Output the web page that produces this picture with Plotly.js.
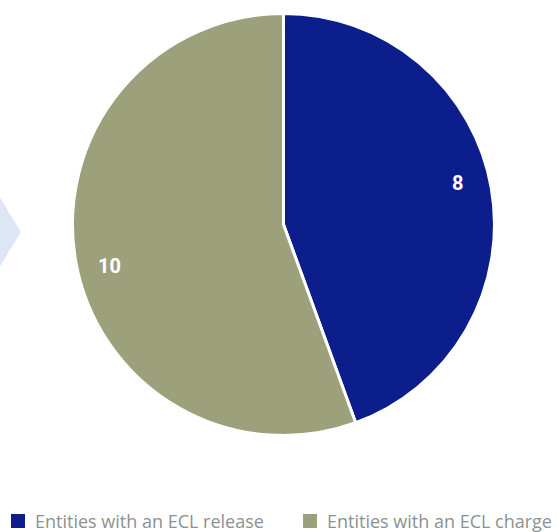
<!DOCTYPE html>
<html><head><meta charset="utf-8">
<script src="https://cdn.plot.ly/plotly-3.0.1.min.js"></script>
<style>html,body{margin:0;padding:0;background:#fff}#chart{width:558px;height:532px}</style>
</head><body><div id="chart"></div>
<script>
const categories = ["Entities with an ECL release", "Entities with an ECL charge"];
const values = [8, 10];
const colors = ["#0b1e8c", "#9ca17c"];

const W = 558, H = 532;
const dom = {x: [0.1299, 0.8862], y: [0.1814, 0.9746]};
const cx = (dom.x[0] + dom.x[1]) / 2, cy = (dom.y[0] + dom.y[1]) / 2;
const rPx = (dom.x[1] - dom.x[0]) * W / 2;
const total = values.reduce((a, b) => a + b, 0);
let cum = 0;
const annotations = values.map((v) => {
  const mid = (cum + v / 2) / total * 2 * Math.PI - 0.061;
  cum += v;
  const rr = rPx * 0.846;
  return {
    x: cx + rr * Math.sin(mid) / W, y: cy + rr * Math.cos(mid) / H,
    xref: "paper", yref: "paper", showarrow: false, text: String(v),
    xanchor: "center", yanchor: "middle",
    font: {family: "Roboto, 'Liberation Sans', sans-serif", size: 20, color: "#ffffff", weight: "bold"}
  };
});

// custom legend (squares + labels) built from categories / colors
const legY = 521, legStep = 292, sq = 14, sqX = 11, txtX = 33;
const shapes = [{type: "path", xref: "paper", yref: "paper",
  path: "M 0 " + (1 - 198/H) + " L " + (21/W) + " " + (1 - 232/H) + " L 0 " + (1 - 266/H) + " Z",
  fillcolor: "#dce6f5", line: {width: 0}, layer: "below"}];
categories.forEach((c, i) => {
  const x0 = sqX + i * legStep;
  shapes.push({type: "rect", xref: "paper", yref: "paper",
    x0: x0 / W, x1: (x0 + sq) / W, y0: 1 - (legY + sq / 2) / H, y1: 1 - (legY - sq / 2) / H,
    fillcolor: colors[i], line: {width: 0}});
  annotations.push({x: (txtX + i * legStep) / W, y: 1 - legY / H, xref: "paper", yref: "paper",
    xanchor: "left", yanchor: "middle", showarrow: false, text: c,
    font: {family: "'Open Sans', Roboto, sans-serif", size: 18, color: "#8c9191"}});
});

const data = [{
  type: "pie", labels: categories, values: values, sort: false,
  direction: "clockwise", rotation: 0, domain: dom,
  marker: {colors: colors, line: {color: "#ffffff", width: 3}},
  textinfo: "none", hoverinfo: "none", showlegend: false
}];

const layout = {
  width: W, height: H, margin: {l: 0, r: 0, t: 0, b: 0, pad: 0, autoexpand: false},
  paper_bgcolor: "#ffffff", plot_bgcolor: "#ffffff",
  showlegend: false,
  annotations: annotations,
  shapes: shapes
};
Plotly.newPlot("chart", data, layout, {displayModeBar: false, staticPlot: true});
</script></body></html>
